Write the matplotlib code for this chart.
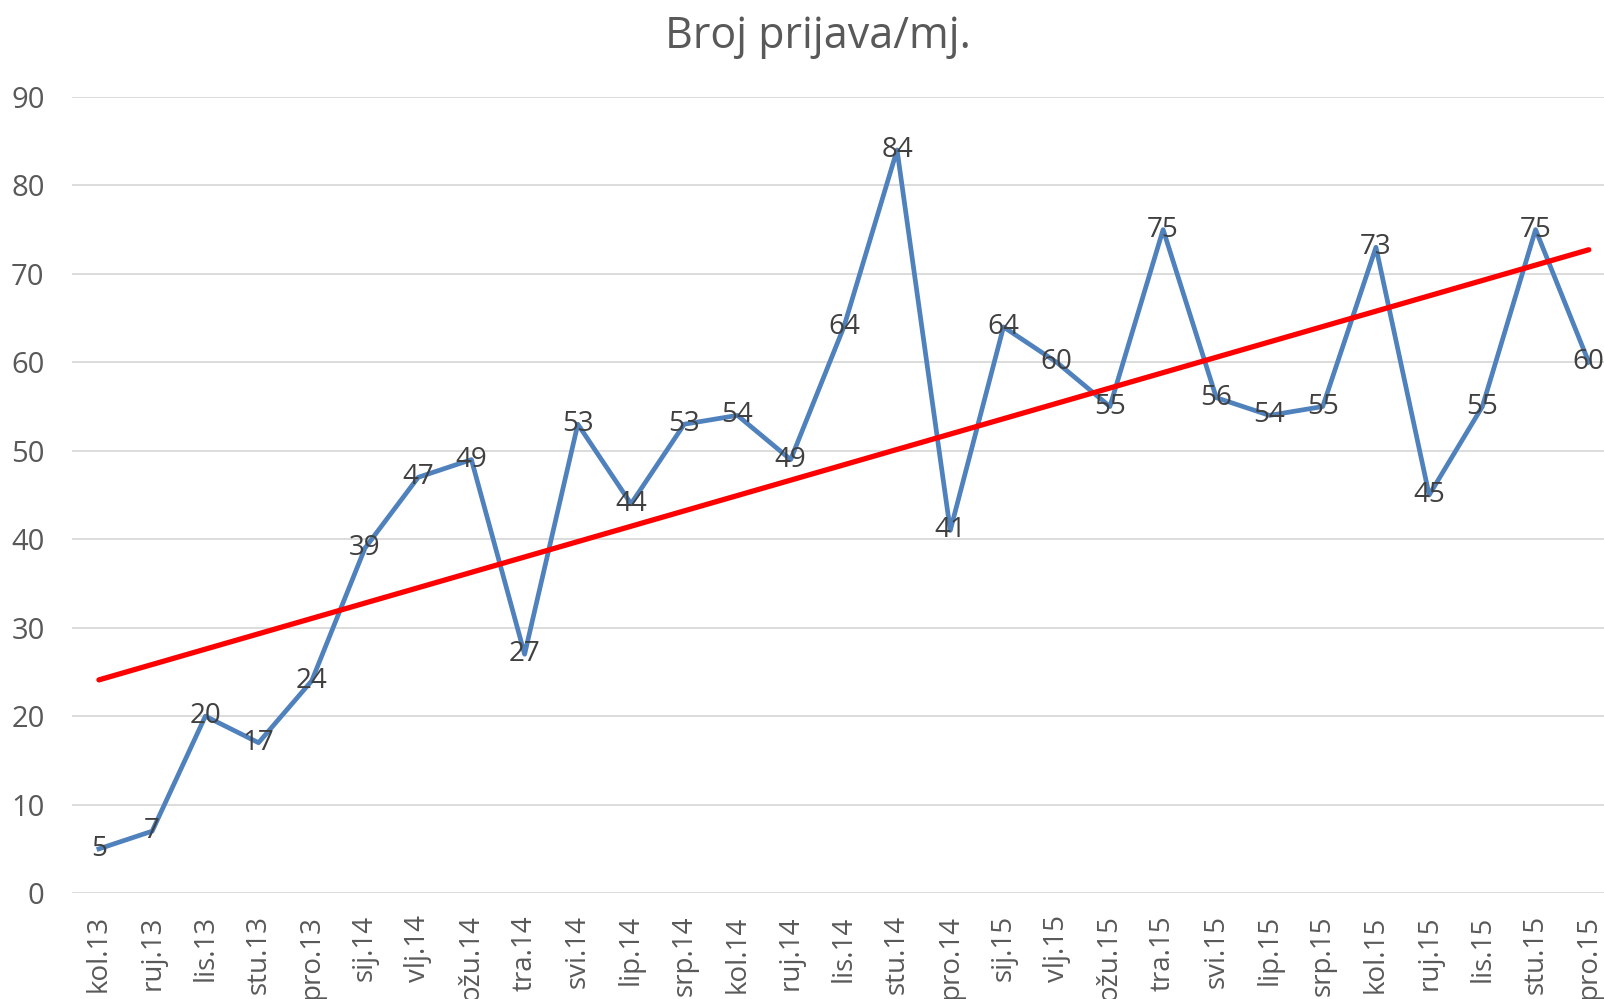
import matplotlib.pyplot as plt
import numpy as np

plt.rcParams['font.family'] = ['Open Sans', 'DejaVu Sans']

mjeseci = ['kol.13', 'ruj.13', 'lis.13', 'stu.13', 'pro.13',
           'sij.14', 'vlj.14', 'ožu.14', 'tra.14', 'svi.14', 'lip.14', 'srp.14',
           'kol.14', 'ruj.14', 'lis.14', 'stu.14', 'pro.14',
           'sij.15', 'vlj.15', 'ožu.15', 'tra.15', 'svi.15', 'lip.15', 'srp.15',
           'kol.15', 'ruj.15', 'lis.15', 'stu.15', 'pro.15']
prijave = [5, 7, 20, 17, 24, 39, 47, 49, 27, 53, 44, 53, 54, 49, 64, 84, 41,
           64, 60, 55, 75, 56, 54, 55, 73, 45, 55, 75, 60]

x = np.arange(len(mjeseci))

fig = plt.figure(figsize=(16.04, 9.99), dpi=100)
ax = fig.add_axes([0.0451, 0.106, 0.962, 0.797])

ax.plot(x, prijave, color='#4F81BD', linewidth=3.4, zorder=3)

# linearni trend
k, b = np.polyfit(x, prijave, 1)
ax.plot(x, k * x + b, color='#FF0000', linewidth=3.8, solid_capstyle='round', zorder=4)

for xi, v in zip(x, prijave):
    ax.text(xi, v, str(v), ha='center', va='center', fontsize=20, color='#404040', zorder=5)

ax.set_xlim(-0.5, len(mjeseci) - 0.5)
ax.set_ylim(0, 90)
ax.set_yticks(range(0, 91, 10))
ax.set_xticks(x)
ax.set_xticklabels(mjeseci, rotation=90, va='top')
ax.tick_params(axis='both', length=0, labelsize=20, labelcolor='#595959')
ax.tick_params(axis='y', labelsize=21, pad=20)
ax.tick_params(axis='x', pad=16)
ax.grid(axis='y', color='#D9D9D9', linewidth=1.3)
ax.set_axisbelow(True)
for s in ax.spines.values():
    s.set_visible(False)

fig.text(0.51, 0.963, 'Broj prijava/mj.', ha='center', va='center', fontsize=31, color='#595959')

fig.savefig('out.png', dpi=100)
